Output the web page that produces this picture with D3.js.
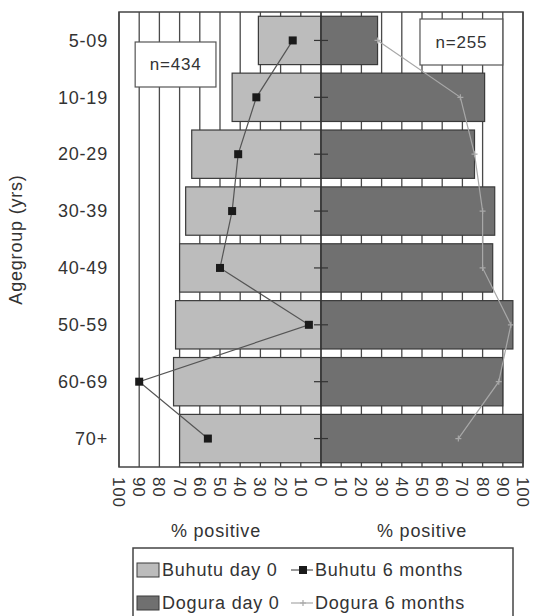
<!DOCTYPE html>
<html>
<head>
<meta charset="utf-8">
<script src="https://cdn.jsdelivr.net/npm/d3@7"></script>
<style>
  body { margin: 0; background: #fff; }
  svg text { font-family: "Liberation Sans", Arial, sans-serif; fill: #333; letter-spacing: 0.8px; }
</style>
</head>
<body>
<svg id="drawing_region"></svg>
<script>
// data
const categories = ['5-09', '10-19', '20-29', '30-39', '40-49', '50-59', '60-69', '70+'];
const buhutuDay0 = [31, 44, 64, 67, 70, 72, 73, 70];
const doguraDay0 = [28, 81, 76, 86, 85, 95, 90, 100];
const buhutu6m = [14, 32, 41, 44, 50, 6, 90, 56];
const dogura6m = [28, 69, 76, 80, 80, 94, 88, 68];
const xTicks = [-100, -90, -80, -70, -60, -50, -40, -30, -20, -10, 0, 10, 20, 30, 40, 50, 60, 70, 80, 90, 100];
const nBuhutu = 'n=434';
const nDogura = 'n=255';

const config = {
    width: 536,
    height: 616,
    margin: {top: 12, right: 13, bottom: 149, left: 119}
};

const svg = d3.select('#drawing_region')
    .attr('width', config.width)
    .attr('height', config.height);

const inner_width = config.width - config.margin.left - config.margin.right;
const inner_height = config.height - config.margin.top - config.margin.bottom;

const chart = svg.append('g')
    .attr('transform', `translate(${config.margin.left}, ${config.margin.top})`);

// Buhutu goes to the left (negative side), Dogura to the right
const xscale = d3.scaleLinear()
    .domain([-100, 100])
    .range([0, inner_width]);

const yscale = d3.scaleBand()
    .domain(categories)
    .range([0, inner_height])
    .paddingInner(0.15)
    .paddingOuter(0.075);

const cy = d => yscale(d) + yscale.bandwidth() / 2;

// vertical grid lines
chart.selectAll('.grid')
    .data(xTicks)
    .enter()
    .append('line')
    .attr('x1', d => xscale(d))
    .attr('x2', d => xscale(d))
    .attr('y1', 0)
    .attr('y2', inner_height)
    .attr('stroke', '#4a4a4a')
    .attr('stroke-width', 1.3);

// bars
chart.selectAll('.bleft')
    .data(categories)
    .enter()
    .append('rect')
    .attr('x', (d, i) => xscale(-buhutuDay0[i]))
    .attr('y', d => yscale(d))
    .attr('width', (d, i) => xscale(0) - xscale(-buhutuDay0[i]))
    .attr('height', yscale.bandwidth())
    .attr('fill', '#bcbcbc')
    .attr('stroke', '#3a3a3a')
    .attr('stroke-width', 1.2);

chart.selectAll('.bright')
    .data(categories)
    .enter()
    .append('rect')
    .attr('x', xscale(0))
    .attr('y', d => yscale(d))
    .attr('width', (d, i) => xscale(doguraDay0[i]) - xscale(0))
    .attr('height', yscale.bandwidth())
    .attr('fill', '#707070')
    .attr('stroke', '#3a3a3a')
    .attr('stroke-width', 1.2);

// center axis and its ticks
chart.append('line')
    .attr('x1', xscale(0)).attr('x2', xscale(0))
    .attr('y1', 0).attr('y2', inner_height)
    .attr('stroke', '#333')
    .attr('stroke-width', 1.2);

chart.selectAll('.ctick')
    .data(categories)
    .enter()
    .append('line')
    .attr('x1', xscale(0) - 7)
    .attr('x2', xscale(0) + 7)
    .attr('y1', d => cy(d))
    .attr('y2', d => cy(d))
    .attr('stroke', '#333')
    .attr('stroke-width', 1.2);

// Dogura 6 months line (light)
const line = d3.line()
    .x(d => xscale(d[0]))
    .y(d => cy(d[1]));

chart.append('path')
    .attr('d', line(categories.map((c, i) => [dogura6m[i], c])))
    .attr('fill', 'none')
    .attr('stroke', '#a8a8a8')
    .attr('stroke-width', 1.2);

chart.selectAll('.dplus')
    .data(categories)
    .enter()
    .append('path')
    .attr('d', (d, i) => {
        const x = xscale(dogura6m[i]), y = cy(d);
        return `M${x - 3},${y}H${x + 3}M${x},${y - 3}V${y + 3}`;
    })
    .attr('stroke', '#a8a8a8')
    .attr('stroke-width', 1.2);

// Buhutu 6 months line (dark, squares)
chart.append('path')
    .attr('d', line(categories.map((c, i) => [-buhutu6m[i], c])))
    .attr('fill', 'none')
    .attr('stroke', '#555')
    .attr('stroke-width', 1.2);

chart.selectAll('.bsq')
    .data(categories)
    .enter()
    .append('rect')
    .attr('x', (d, i) => xscale(-buhutu6m[i]) - 4)
    .attr('y', d => cy(d) - 4)
    .attr('width', 8)
    .attr('height', 8)
    .attr('fill', '#1a1a1a');

// n boxes
const nbox = (x, y, w, h, label) => {
    chart.append('rect')
        .attr('x', x).attr('y', y)
        .attr('width', w).attr('height', h)
        .attr('fill', '#fff')
        .attr('stroke', '#555')
        .attr('stroke-width', 1.2);
    chart.append('text')
        .attr('x', x + w / 2)
        .attr('y', y + h / 2)
        .attr('dy', '0.35em')
        .attr('text-anchor', 'middle')
        .attr('font-size', '17px')
        .text(label);
};
nbox(xscale(-92), 30, xscale(-52) - xscale(-92), 45, nBuhutu);
nbox(xscale(49), 7, xscale(90) - xscale(49), 46, nDogura);

// frame
chart.append('rect')
    .attr('x', 0).attr('y', 0)
    .attr('width', inner_width)
    .attr('height', inner_height)
    .attr('fill', 'none')
    .attr('stroke', '#444')
    .attr('stroke-width', 1.5);

// y labels
chart.selectAll('.ylab')
    .data(categories)
    .enter()
    .append('text')
    .attr('x', -11)
    .attr('y', d => cy(d))
    .attr('dy', '0.35em')
    .attr('text-anchor', 'end')
    .attr('font-size', '18px')
    .text(d => d);

// x tick labels, rotated
chart.selectAll('.xlab')
    .data(xTicks)
    .enter()
    .append('text')
    .attr('transform', d => `translate(${xscale(d)}, ${inner_height + 10}) rotate(90)`)
    .attr('dy', '0.35em')
    .attr('text-anchor', 'start')
    .attr('font-size', '17px')
    .attr('letter-spacing', '0px')
    .text(d => Math.abs(d));

// axis titles
chart.append('text')
    .attr('x', xscale(-52))
    .attr('y', inner_height + 70)
    .attr('text-anchor', 'middle')
    .attr('font-size', '18px')
    .text('% positive');

chart.append('text')
    .attr('x', xscale(50))
    .attr('y', inner_height + 70)
    .attr('text-anchor', 'middle')
    .attr('font-size', '18px')
    .text('% positive');

svg.append('text')
    .attr('transform', `translate(22, ${config.margin.top + inner_height / 2}) rotate(-90)`)
    .attr('text-anchor', 'middle')
    .attr('font-size', '18px')
    .text('Agegroup (yrs)');

// legend
const legend = svg.append('g').attr('transform', 'translate(133, 548)');
legend.append('rect')
    .attr('x', 0).attr('y', 0)
    .attr('width', 380).attr('height', 72)
    .attr('fill', '#fff')
    .attr('stroke', '#444')
    .attr('stroke-width', 1.5);

const rows = [22, 55];
legend.append('rect').attr('x', 4).attr('y', rows[0] - 7).attr('width', 22).attr('height', 14)
    .attr('fill', '#bcbcbc').attr('stroke', '#3a3a3a');
legend.append('rect').attr('x', 4).attr('y', rows[1] - 7).attr('width', 22).attr('height', 14)
    .attr('fill', '#707070').attr('stroke', '#3a3a3a');

legend.append('line').attr('x1', 158).attr('x2', 180).attr('y1', rows[0]).attr('y2', rows[0])
    .attr('stroke', '#555').attr('stroke-width', 1.2);
legend.append('rect').attr('x', 166).attr('y', rows[0] - 4).attr('width', 8).attr('height', 8)
    .attr('fill', '#1a1a1a');
legend.append('line').attr('x1', 158).attr('x2', 180).attr('y1', rows[1]).attr('y2', rows[1])
    .attr('stroke', '#a8a8a8').attr('stroke-width', 1.2);
legend.append('path').attr('d', `M167,${rows[1]}H173M170,${rows[1] - 3}V${rows[1] + 3}`)
    .attr('stroke', '#a8a8a8').attr('stroke-width', 1.2);

const labels = [
    [29, rows[0], 'Buhutu day 0'],
    [182, rows[0], 'Buhutu 6 months'],
    [29, rows[1], 'Dogura day 0'],
    [182, rows[1], 'Dogura 6 months']
];
legend.selectAll('.ltext')
    .data(labels)
    .enter()
    .append('text')
    .attr('x', d => d[0])
    .attr('y', d => d[1])
    .attr('dy', '0.35em')
    .attr('font-size', '18px')
    .text(d => d[2]);
</script>
</body>
</html>
